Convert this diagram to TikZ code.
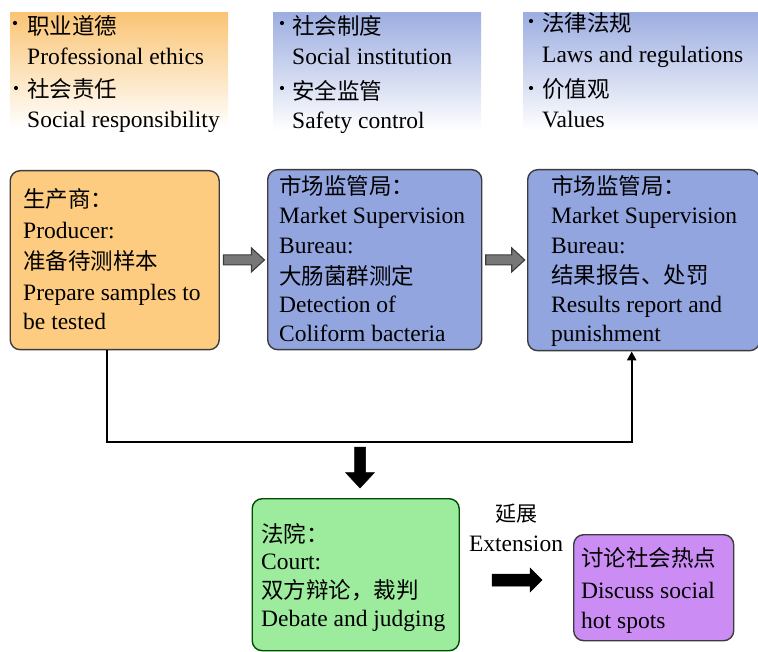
\documentclass[tikz,border=0pt]{standalone}
\usepackage{fontspec}
\setmainfont{Liberation Serif}
\newfontfamily\cjk{Noto Sans CJK SC}
\usetikzlibrary{arrows.meta,calc}
\definecolor{orangeBox}{HTML}{FDCC80}
\definecolor{blueBox}{HTML}{93A5DF}
\definecolor{greenBox}{HTML}{9DEB9D}
\definecolor{purpleBox}{HTML}{CB8DF4}
\definecolor{orangeTop}{HTML}{FAC474}
\definecolor{blueTop}{HTML}{9CADE0}
\definecolor{edge}{HTML}{3C3C3C}
\definecolor{arrowGray}{HTML}{777777}
\tikzset{
  stepbox/.style={draw=edge, line width=1.4pt, rounded corners=10pt, anchor=north west, inner sep=0pt},
  topbox/.style={draw=none, anchor=north west, inner sep=0pt},
  en/.style={anchor=base west, inner sep=0pt, font=\fontsize{23.5}{28}\selectfont},
  zh/.style={anchor=base west, inner sep=0pt, font=\cjk\fontsize{22.5}{28}\selectfont},
  bul/.style={circle, fill=black, inner sep=0pt, minimum size=4.2pt},
  grayarrow/.style={draw=edge, fill=arrowGray, line width=1.1pt, line join=miter},
  blackarrow/.style={draw=black, fill=black, line width=0.5pt},
  conn/.style={line width=2.4pt, black}
}
\begin{document}
\begin{tikzpicture}[x=1pt,y=-1pt]
\useasboundingbox (0,0) rectangle (758,652);
% top gradient boxes
\node[topbox, minimum width=218pt, minimum height=116pt, top color=orangeTop, bottom color=white] (t1) at (10,12) {};
\node[topbox, minimum width=208pt, minimum height=118pt, top color=blueTop, bottom color=white] (t2) at (273,12) {};
\node[topbox, minimum width=235pt, minimum height=118pt, top color=blueTop, bottom color=white] (t3) at (523,12) {};
% top texts
\node[bul] (b11) at (15,23) {};
\node[zh] (t11) at (27,35) {职业道德};
\node[en] (t12) at (27,65) {Professional ethics};
\node[bul] (b12) at (16,88) {};
\node[zh] (t13) at (27,98) {社会责任};
\node[en] (t14) at (27,128) {Social responsibility};
\node[bul] (b21) at (282,23) {};
\node[zh] (t21) at (292,35) {社会制度};
\node[en] (t22) at (292,65) {Social institution};
\node[bul] (b22) at (282,88) {};
\node[zh] (t23) at (292,100) {安全监管};
\node[en] (t24) at (292,129) {Safety control};
\node[bul] (b31) at (531,21) {};
\node[zh] (t31) at (542,32) {法律法规};
\node[en] (t32) at (542,63) {Laws and regulations};
\node[bul] (b32) at (531,88) {};
\node[zh] (t33) at (542,98) {价值观};
\node[en] (t34) at (542,128) {Values};
% main boxes
\node[stepbox, fill=orangeBox, minimum width=209pt, minimum height=179pt] (A) at (9.5,170) {};
\node[stepbox, fill=blueBox, minimum width=214pt, minimum height=180pt] (B) at (267,169) {};
\node[stepbox, fill=blueBox, minimum width=232pt, minimum height=181pt] (C) at (527,169) {};
\node[stepbox, draw=green!30!black, fill=greenBox, minimum width=207pt, minimum height=152pt] (D) at (251.5,498) {};
\node[stepbox, draw=edge, fill=purpleBox, minimum width=160pt, minimum height=106pt] (E) at (573,534) {};
% box A text
\node[zh] (a1) at (23,208) {生产商：};
\node[en] (a2) at (23,239) {Producer:};
\node[zh] (a3) at (23,270) {准备待测样本};
\node[en] (a4) at (23,301) {Prepare samples to};
\node[en] (a5) at (23,330) {be tested};
% box B text
\node[zh] (bb1) at (279,195) {市场监管局：};
\node[en] (bb2) at (279,224) {Market Supervision};
\node[en] (bb3) at (279,254) {Bureau:};
\node[zh] (bb4) at (279,285) {大肠菌群测定};
\node[en] (bb5) at (279,313) {Detection of};
\node[en] (bb6) at (279,342) {Coliform bacteria};
% box C text
\node[zh] (c1) at (551,195) {市场监管局：};
\node[en] (c2) at (551,224) {Market Supervision};
\node[en] (c3) at (551,254) {Bureau:};
\node[zh] (c4) at (551,284) {结果报告、处罚};
\node[en] (c5) at (551,313) {Results report and};
\node[en] (c6) at (551,342) {punishment};
% court text
\node[zh] (d1) at (261,542) {法院：};
\node[en] (d2) at (261,569) {Court:};
\node[zh] (d3) at (261,598) {双方辩论，裁判};
\node[en] (d4) at (261,626) {Debate and judging};
% purple text
\node[zh] (e1) at (581,566) {讨论社会热点};
\node[en] (e2) at (581,598) {Discuss social};
\node[en] (e3) at (581,628) {hot spots};
% extension label
\node[anchor=base, inner sep=0pt, font=\cjk\fontsize{21}{26}\selectfont] (x1) at (516,521) {延展};
\node[anchor=base, inner sep=0pt, font=\fontsize{23.5}{28}\selectfont] (x2) at (516,551) {Extension};
% gray block arrows between boxes
\coordinate (g1) at ($(A.east)!0.5!(B.west)$);
\coordinate (g2) at ($(B.east)!0.5!(C.west)$);
\begin{scope}[shift={(g1)}]
  \draw[grayarrow] (-20,-5) -- (8,-5) -- (8,-12) -- (21,0) -- (8,12) -- (8,5) -- (-20,5) -- cycle;
\end{scope}
\begin{scope}[shift={(g2)}]
  \draw[grayarrow] (-19,-5) -- (7,-5) -- (7,-12) -- (20,0) -- (7,12) -- (7,5) -- (-19,5) -- cycle;
\end{scope}
% connector
\coordinate (hl) at (0,442);
\draw[conn, -{Triangle[length=9pt,width=9pt]}] ([xshift=-8pt]A.south) -- ([xshift=-8pt]A.south |- hl) -| ([xshift=-12pt]C.south);
% down block arrow
\coordinate (k) at (360,467.5);
\begin{scope}[shift={(k)}]
  \draw[blackarrow] (-5.5,-20.5) -- (5.5,-20.5) -- (5.5,5) -- (14.5,5) -- (0,20.5) -- (-14.5,5) -- (-5.5,5) -- cycle;
\end{scope}
% extension block arrow
\coordinate (m) at (517,580);
\begin{scope}[shift={(m)}]
  \draw[blackarrow] (-25,-6) -- (13,-6) -- (13,-12) -- (25,0) -- (13,12) -- (13,6) -- (-25,6) -- cycle;
\end{scope}
\end{tikzpicture}
\end{document}
